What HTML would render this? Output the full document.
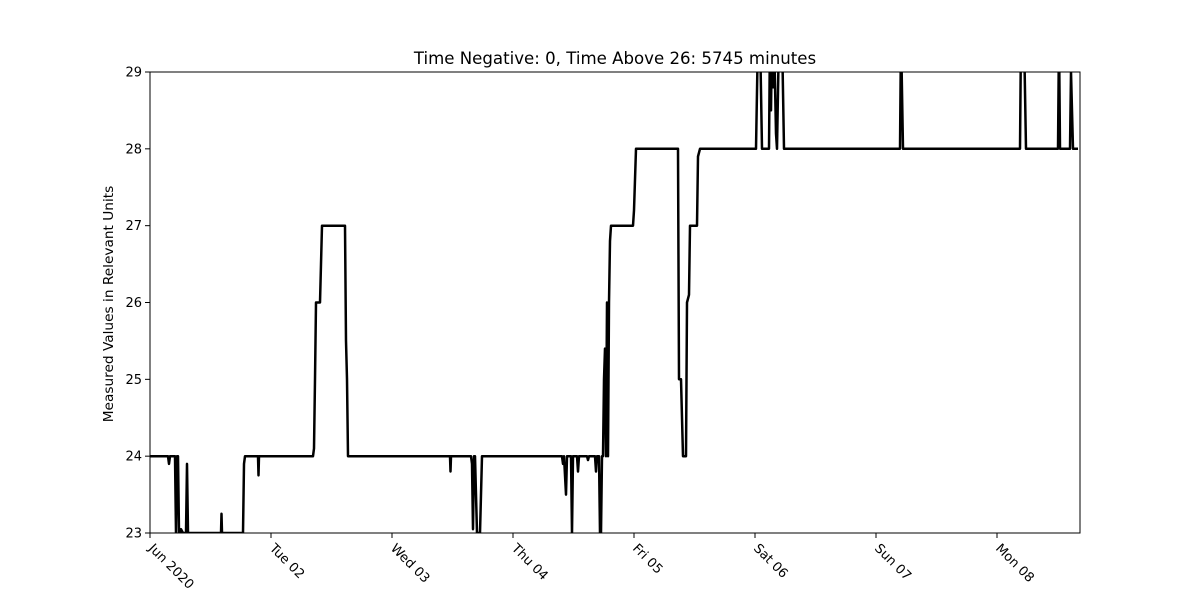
<!DOCTYPE html>
<html><head><meta charset="utf-8"><style>
body{margin:0;background:#fff}
svg text{font-family:"DejaVu Sans","Liberation Sans",sans-serif;fill:#000}
</style></head><body>
<svg id="chart" width="1200" height="600" viewBox="0 0 1200 600" xmlns="http://www.w3.org/2000/svg">
<defs><clipPath id="clip"><rect x="150" y="72" width="930" height="461"/></clipPath></defs>
<rect width="1200" height="600" fill="#fff"/>
<text x="615" y="64" text-anchor="middle" font-size="16.6">Time Negative: 0, Time Above 26: 5745 minutes</text>
<text transform="translate(113,304) rotate(-90)" text-anchor="middle" font-size="13.7">Measured Values in Relevant Units</text>
<g id="yticks"></g>
<g id="xticks"></g>
<path id="line" clip-path="url(#clip)" fill="none" stroke="#000" stroke-width="2.5" stroke-linejoin="round"/>
<rect x="150" y="72" width="930" height="461" fill="none" stroke="#000" stroke-width="1"/>
</svg>
<script>
// times in hours since Jun 01 00:00
const seriesPx = [150,168,169,170,175,176,177,178,179,180,181,183,186,187,188,221,221.5,222,243,244,245,258,258.5,259,313,314,315,316,320,321,322,345,346,347,348,450,450.5,451,471,472,473,474,475,477,480,482,562,563,564,566,567,571,572,573,577,578,579,587,588,589,595,596,597,599,600,601,602,603,604,605,606,607,608,609,610,611,633,634,635,636,678,679,681,683,686,687,689,690,697,698,700,756,758,760,762,769,770,771,772,773,774,776,777,779,782,784,900,901,903,1020,1021,1024,1026,1058,1059,1060,1070,1071,1073,1078];
const seriesHours = seriesPx.map(p => +((p-150)*24/121).toFixed(2));
const seriesValues = [24,24,23.9,24,24,23,24,24,23,23,23.05,23,23,23.9,23,23,23.25,23,23,23.9,24,24,23.75,24,24,24.1,25,26,26,26.5,27,27,25.5,25,24,24,23.8,24,24,23.9,23.05,24,24,23,23,24,24,23.9,24,23.5,24,24,23,24,24,23.8,24,24,23.95,24,24,23.8,24,24,23,23,24,24,25,25.4,24,26,24,26,26.8,27,27,27.2,27.6,28,28,25,25,24,24,26,26.1,27,27,27.9,28,28,29.5,29.5,28,28,29.5,28.5,29.5,28.8,29.5,28.2,28,29.5,29.5,28,28,29.5,28,28,29.5,29.5,28,28,29.5,28,28,29,28,28];
const yTicks = [23,24,25,26,27,28,29];
const xTickHours = [0,24,48,72,96,120,144,168];
const xTickLabels = ["Jun 2020","Tue 02","Wed 03","Thu 04","Fri 05","Sat 06","Sun 07","Mon 08"];

const X0=150, PXH=121/24, Y0=533, YMIN=23, YMAX=29, H=461;
const xs = h => X0 + h*PXH;
const ys = v => Y0 - (v-YMIN)/(YMAX-YMIN)*H;
const NS="http://www.w3.org/2000/svg";
let d="";
seriesHours.forEach((h,i)=>{d+=(i?"L":"M")+xs(h).toFixed(1)+","+ys(seriesValues[i]).toFixed(1);});
document.getElementById("line").setAttribute("d",d);
const yg=document.getElementById("yticks");
yTicks.forEach(v=>{
  const l=document.createElementNS(NS,"line");
  
  
  l.setAttribute("x1",145);l.setAttribute("x2",150);l.setAttribute("y1",ys(v));l.setAttribute("y2",ys(v));l.setAttribute("stroke","#000");
  yg.appendChild(l);
  const t=document.createElementNS(NS,"text");
  
  
  t.setAttribute("x",142);t.setAttribute("y",ys(v)+4.5);t.setAttribute("text-anchor","end");t.setAttribute("font-size","13");
  t.textContent=v;yg.appendChild(t);
});
const xg=document.getElementById("xticks");
xTickHours.forEach((h,i)=>{
  const x=xs(h);
  const l=document.createElementNS(NS,"line");
  
  
  l.setAttribute("x1",x);l.setAttribute("x2",x);l.setAttribute("y1",533);l.setAttribute("y2",538);l.setAttribute("stroke","#000");
  xg.appendChild(l);
  const t=document.createElementNS(NS,"text");
  
  
  t.setAttribute("transform","translate("+(x-2)+",549) rotate(45)");t.setAttribute("font-size","13");
  t.textContent=xTickLabels[i];xg.appendChild(t);
});
</script>
</body></html>
